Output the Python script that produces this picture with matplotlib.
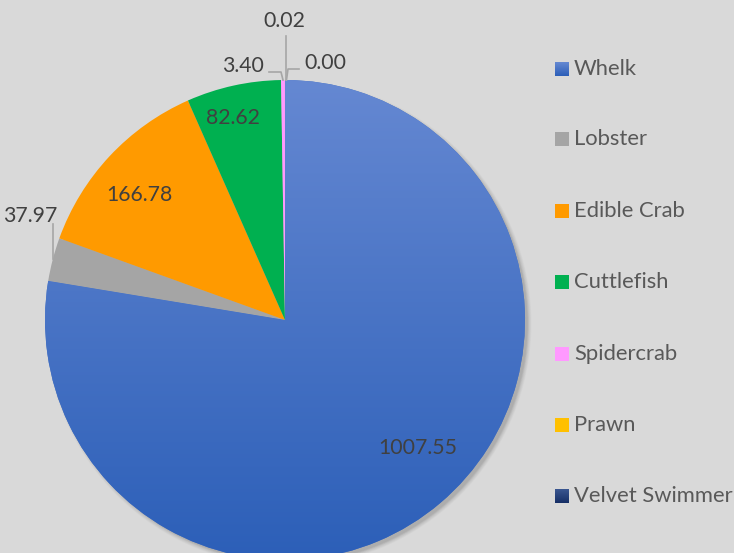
import matplotlib
matplotlib.use("Agg")
import matplotlib.pyplot as plt
import numpy as np
from matplotlib.patches import Rectangle, Circle
from matplotlib.colors import to_rgb

categories = ["Whelk", "Lobster", "Edible Crab", "Cuttlefish", "Spidercrab", "Prawn", "Velvet Swimmer"]
values = [1007.55, 37.97, 166.78, 82.62, 3.40, 0.02, 0.00]
labels = ["1007.55", "37.97", "166.78", "82.62", "3.40", "0.02", "0.00"]
colors = ["#4472c4", "#a5a5a5", "#ff9a00", "#00b050", "#ff99ff", "#ffc000", "#1f3a78"]
grad_top = {"Whelk": "#6588d2", "Velvet Swimmer": "#3a5690"}
grad_bot = {"Whelk": "#2c5fb8", "Velvet Swimmer": "#162f66"}

W, H = 734, 553
fig = plt.figure(figsize=(W / 100, H / 100), dpi=100)
fig.patch.set_facecolor("#d9d9d9")
ax = fig.add_axes([0, 0, 1, 1])
ax.set_xlim(0, W)
ax.set_ylim(0, H)
ax.set_axis_off()
ax.set_facecolor("#d9d9d9")

cx, cy, R = 285, H - 320, 240
FONT = "Lato"
TXT = "#404040"

# shadow (offset down-right)
for i, a in enumerate(np.linspace(0.05, 0.02, 6)):
    ax.add_patch(Circle((cx + 3.5, cy - 3.5), R - 1 + i * 0.8, color="#000000", alpha=a, lw=0, zorder=1))

wedges, _ = ax.pie(values, colors=colors, startangle=90, counterclock=False,
                   center=(cx, cy), radius=R, frame=True,
                   wedgeprops=dict(linewidth=0, zorder=2))
ax.set_xlim(0, W)
ax.set_ylim(0, H)
ax.set_axis_off()

# gradient fills
for w, cat in zip(wedges, categories):
    if cat in grad_top:
        t = np.array(to_rgb(grad_top[cat]))
        b = np.array(to_rgb(grad_bot[cat]))
        f = np.linspace(0, 1, 256)[:, None]
        img = np.repeat((t * (1 - f) + b * f)[:, None, :], 2, axis=1)
        im = ax.imshow(img, extent=(cx - R, cx + R, cy - R, cy + R), origin="upper",
                       aspect="auto", zorder=3, interpolation="bilinear")
        im.set_clip_path(w)

ax.set_xlim(0, W)
ax.set_ylim(0, H)

# inner labels: positioned by wedge mid-angle and a radial fraction
inner = {"Whelk": (0.77, 5.8), "Edible Crab": (0.8, 2.4), "Cuttlefish": (0.87, 2.0)}
for w, cat, lab in zip(wedges, categories, labels):
    if cat in inner:
        frac, dang = inner[cat]
        ang = np.deg2rad((w.theta1 + w.theta2) / 2 + dang)
        ax.text(cx + frac * R * np.cos(ang), cy + frac * R * np.sin(ang), lab,
                ha="center", va="center", fontsize=15.3, family=FONT, color=TXT, zorder=5)

lc = "#a6a6a6"
# Lobster leader
wl = wedges[1]
a = np.deg2rad((wl.theta1 + wl.theta2) / 2)
ex, ey = cx + R * np.cos(a), cy + R * np.sin(a)
ax.plot([ex, ex], [ey, H - 224], color=lc, lw=1.2, zorder=5)
ax.text(30, H - 216, labels[1], ha="center", va="center", fontsize=15.3, family=FONT, color=TXT)

# Spidercrab leader
ax.plot([269, 281, 283], [H - 72, H - 72, H - 80], color=lc, lw=1.2, zorder=5)
ax.text(243, H - 66, labels[4], ha="center", va="center", fontsize=15.3, family=FONT, color=TXT)
# Prawn leader
ax.plot([285.5, 285.5], [H - 36, H - 80], color=lc, lw=1.2, zorder=5)
ax.text(284, H - 21, labels[5], ha="center", va="center", fontsize=15.3, family=FONT, color=TXT)
# Velvet leader
ax.plot([299, 288, 286.5], [H - 69, H - 69, H - 80], color=lc, lw=1.2, zorder=5)
ax.text(325, H - 63, labels[6], ha="center", va="center", fontsize=15.3, family=FONT, color=TXT)

# legend
row_y = [69, 139, 211, 282, 354, 425, 496]
for cat, col, yy in zip(categories, colors, row_y):
    y = H - yy
    if cat in grad_top:
        t = np.array(to_rgb(grad_top[cat])); b = np.array(to_rgb(grad_bot[cat]))
        f = np.linspace(0, 1, 32)[:, None]
        img = np.repeat((t * (1 - f) + b * f)[:, None, :], 2, axis=1)
        ax.imshow(img, extent=(555, 569, y - 7, y + 7), origin="upper", aspect="auto", zorder=5)
    else:
        ax.add_patch(Rectangle((555, y - 7), 14, 14, color=col, lw=0, zorder=5))
    ax.text(574, y, cat, ha="left", va="center", fontsize=15.8, family=FONT, color="#595959")

ax.set_xlim(0, W)
ax.set_ylim(0, H)
fig.savefig("out.png", dpi=100, facecolor=fig.get_facecolor())
